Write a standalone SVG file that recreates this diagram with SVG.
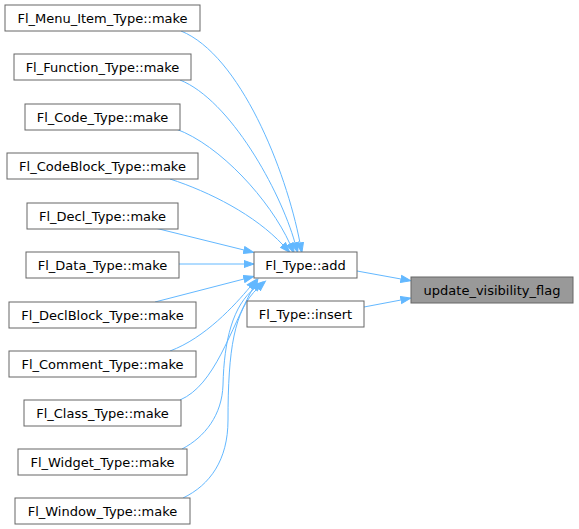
<svg xmlns="http://www.w3.org/2000/svg" width="579" height="529" viewBox="0 0 579 529">
<style>
.n rect{fill:#fff;stroke:#666;stroke-width:1}
.n text{font-family:"DejaVu Sans",sans-serif;font-size:13px;text-anchor:middle;fill:#000}
.e path{fill:none;stroke:#63b8ff;stroke-width:1}
</style>
<defs>
<marker id="a" markerUnits="userSpaceOnUse" markerWidth="12" markerHeight="10" refX="0" refY="4" orient="auto" viewBox="0 -1 11 10">
<path d="M0,0.5 L10,4 L0,7.5 z" fill="#63b8ff" stroke="#63b8ff" stroke-width="1"/>
</marker>
</defs>
<rect width="579" height="529" fill="#fff"/>
<g class="e">
<path marker-end="url(#a)" d="M181,31 C240,55 286,170 300,243"/>
<path marker-end="url(#a)" d="M180,80 C230,100 280,190 295,243"/>
<path marker-end="url(#a)" d="M176,129 C220,145 270,200 290,244"/>
<path marker-end="url(#a)" d="M170,179 C210,192 255,215 283,245"/>
<path marker-end="url(#a)" d="M155,228 L244,250"/>
<path marker-end="url(#a)" d="M179,264 L244,264"/>
<path marker-end="url(#a)" d="M155,302 L244,279"/>
<path marker-end="url(#a)" d="M170,351 C205,338 235,305 250,287"/>
<path marker-end="url(#a)" d="M180,400 C215,385 230,330 253,288"/>
<path marker-end="url(#a)" d="M182,449 C205,437 222,415 223,385 C224,340 233,305 255,288"/>
<path marker-end="url(#a)" d="M183,498 C210,485 228,460 228,420 C228,350 234,310 258,288"/>
<path marker-end="url(#a)" d="M357,271 L401,279"/>
<path marker-end="url(#a)" d="M364,307 L401,300"/>
</g>
<g id="n1" class="n"><rect x="5" y="5" width="195" height="26"/><text x="102.5" y="22.5">Fl_Menu_Item_Type::make</text></g>
<g id="n2" class="n"><rect x="14" y="54" width="177" height="26"/><text x="102.5" y="71.5">Fl_Function_Type::make</text></g>
<g id="n3" class="n"><rect x="25" y="104" width="155" height="26"/><text x="102.5" y="121.5">Fl_Code_Type::make</text></g>
<g id="n4" class="n"><rect x="7" y="153" width="191" height="26"/><text x="102.5" y="170.5">Fl_CodeBlock_Type::make</text></g>
<g id="n5" class="n"><rect x="27" y="203" width="151" height="26"/><text x="102.5" y="220.5">Fl_Decl_Type::make</text></g>
<g id="n6" class="n"><rect x="26" y="252" width="153" height="26"/><text x="102.5" y="269.5">Fl_Data_Type::make</text></g>
<g id="n7" class="n"><rect x="9" y="302" width="187" height="26"/><text x="102.5" y="319.5">Fl_DeclBlock_Type::make</text></g>
<g id="n8" class="n"><rect x="9" y="351" width="187" height="26"/><text x="102.5" y="368.5">Fl_Comment_Type::make</text></g>
<g id="n9" class="n"><rect x="24" y="400" width="157" height="26"/><text x="102.5" y="417.5">Fl_Class_Type::make</text></g>
<g id="n10" class="n"><rect x="18" y="449" width="169" height="26"/><text x="102.5" y="466.5">Fl_Widget_Type::make</text></g>
<g id="n11" class="n"><rect x="15" y="498" width="175" height="26"/><text x="102.5" y="515.5">Fl_Window_Type::make</text></g>
<g id="n12" class="n"><rect x="254" y="252" width="103" height="26"/><text x="305.5" y="269.5">Fl_Type::add</text></g>
<g id="n13" class="n"><rect x="247" y="301" width="117" height="26"/><text x="305.5" y="318.5">Fl_Type::insert</text></g>
<g id="n14" class="n"><rect x="411" y="277" width="162" height="26" style="fill:#999"/><text x="492" y="294.5">update_visibility_flag</text></g>
</svg>
